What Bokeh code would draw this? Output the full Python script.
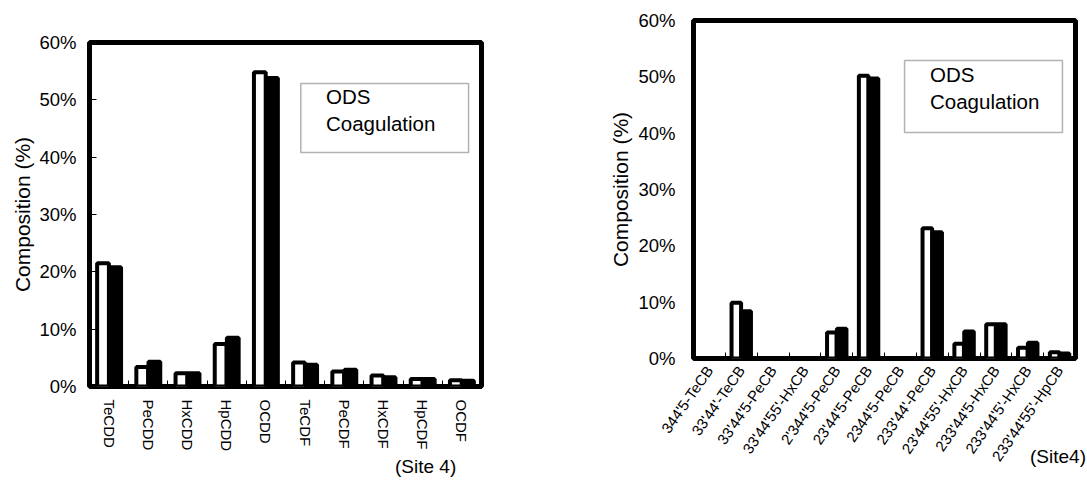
import math
import numpy as np
from bokeh.plotting import figure
from bokeh.models import (Range1d, FixedTicker, Legend, LegendItem, BoxAnnotation,
                          ColumnDataSource, PrintfTickFormatter, Div)
from bokeh.embed import file_html
from bokeh.resources import INLINE

# ---------------- data ----------------
dioxin_categories = ["TeCDD", "PeCDD", "HxCDD", "HpCDD", "OCDD",
                     "TeCDF", "PeCDF", "HxCDF", "HpCDF", "OCDF"]
dioxin_ods = [21.5, 3.4, 2.3, 7.4, 54.8, 4.2, 2.6, 1.9, 1.3, 1.1]
dioxin_coag = [20.8, 4.3, 2.3, 8.5, 53.8, 3.8, 2.9, 1.6, 1.3, 1.0]

pcb_categories = ["344'5-TeCB", "33'44'-TeCB", "33'44'5-PeCB", "33'44'55'-HxCB",
                  "2'344'5-PeCB", "23'44'5-PeCB", "2344'5-PeCB", "233'44'-PeCB",
                  "23'44'55'-HxCB", "233'44'5-HxCB", "233'44'5'-HxCB", "233'44'55'-HpCB"]
pcb_ods = [0, 9.9, 0, 0, 4.6, 50.2, 0, 23.1, 2.6, 6.1, 1.9, 1.1]
pcb_coag = [0, 8.4, 0, 0, 5.3, 49.7, 0, 22.4, 4.8, 6.1, 2.8, 0.9]

y_ticks = [0, 10, 20, 30, 40, 50, 60]
series_names = ["ODS", "Coagulation"]
y_title = "Composition (%)"
site_left = "(Site 4)"
site_right = "(Site4)"

FONT = "Liberation Sans"


def make_chart(cats, ods, coag, width, height, borders, label_orient, label_size,
               y_tick_in, box, legend_loc, label_standoff, ytick_standoff, ylabel_standoff):
    n = len(cats)
    centers = np.arange(n) + 0.5
    off = 0.155
    bw = 0.30
    p = figure(width=width, height=height, output_backend="svg", toolbar_location=None,
               x_range=Range1d(0, n), y_range=Range1d(0, 60),
               min_border_left=borders[0], min_border_right=borders[1],
               min_border_top=borders[2], min_border_bottom=borders[3])
    p.grid.visible = False
    p.background_fill_color = "white"
    p.border_fill_color = "white"
    p.outline_line_color = "black"
    p.outline_line_width = 5

    src_o = ColumnDataSource(dict(x=centers - off, top=ods))
    src_c = ColumnDataSource(dict(x=centers + off, top=coag))
    p.vbar(x="x", top="top", bottom=0, width=bw, source=src_o,
           fill_color="white", line_color="black", line_width=4)
    p.vbar(x="x", top="top", bottom=0, width=bw, source=src_c,
           fill_color="black", line_color="black", line_width=4)

    # x axis
    xa = p.xaxis[0]
    xa.ticker = FixedTicker(ticks=list(centers), minor_ticks=list(np.arange(1, n)))
    xa.major_label_overrides = {float(c): cats[i] for i, c in enumerate(centers)}
    xa.major_label_orientation = label_orient
    xa.major_label_text_font = FONT
    xa.major_label_text_font_size = label_size
    xa.major_label_text_color = "black"
    xa.major_label_standoff = label_standoff
    xa.axis_line_color = None
    xa.major_tick_line_color = None
    xa.minor_tick_in = 6
    xa.minor_tick_out = 0
    xa.minor_tick_line_color = "black"
    xa.minor_tick_line_width = 1

    # y axis
    ya = p.yaxis[0]
    ya.ticker = FixedTicker(ticks=y_ticks)
    ya.formatter = PrintfTickFormatter(format="%d%%")
    ya.major_label_text_font = FONT
    ya.major_label_text_font_size = "18.5px"
    ya.major_label_text_color = "black"
    ya.major_label_standoff = ytick_standoff
    ya.axis_line_color = None
    if y_tick_in:
        ya.major_tick_in = y_tick_in
        ya.major_tick_out = 0
        ya.major_tick_line_color = "black"
    else:
        ya.major_tick_line_color = None
    ya.minor_tick_line_color = None
    ya.axis_label = y_title
    ya.axis_label_text_font = FONT
    ya.axis_label_text_font_size = "21px"
    ya.axis_label_text_font_style = "normal"
    ya.axis_label_text_color = "black"
    ya.axis_label_standoff = ylabel_standoff

    # legend box + legend text
    p.add_layout(BoxAnnotation(left=box[0], right=box[1], top=box[2], bottom=box[3],
                               fill_color="white", fill_alpha=1.0,
                               line_color="black", line_width=1.5, level="overlay"))
    proxy_o = p.vbar(x=[], top=[], width=bw, fill_alpha=0, line_alpha=0)
    proxy_c = p.vbar(x=[], top=[], width=bw, fill_alpha=0, line_alpha=0)
    legend = Legend(items=[LegendItem(label=series_names[0], renderers=[proxy_o]),
                           LegendItem(label=series_names[1], renderers=[proxy_c])],
                    location=legend_loc, padding=4, spacing=3,
                    glyph_width=10, glyph_height=24, label_height=24, label_standoff=6,
                    label_text_font=FONT, label_text_font_size="20.5px",
                    label_text_color="black",
                    border_line_color=None, background_fill_alpha=0)
    p.add_layout(legend, "center")
    return p


p1 = make_chart(dioxin_categories, dioxin_ods, dioxin_coag, 560, 464,
                (80, 87, 34, 86), "vertical", "15px", 7,
                (5.39, 9.67, 52.85, 40.8), (221, 250), 7, 13, 2)
p2 = make_chart(pcb_categories, pcb_ods, pcb_coag, 511, 464,
                (125, 4, 12, 114), math.radians(55), "15px", 0,
                (6.63, 11.59, 52.9, 40.1), (221, 244), 3, 12, 3)

p1.styles = {"position": "absolute", "left": "8px", "top": "8px"}
p2.styles = {"position": "absolute", "left": "568px", "top": "8px"}


def site_note(text, left, top):
    return Div(text=text,
               styles={"position": "absolute", "left": f"{left}px", "top": f"{top}px",
                       "font-family": "Liberation Sans", "font-size": "19px",
                       "line-height": "20px", "color": "black", "margin": "0",
                       "padding": "0", "white-space": "nowrap"})


note1 = site_note(site_left, 395, 457)
note2 = site_note(site_right, 1030, 447)

open("out.html", "w").write(file_html([p1, p2, note1, note2], INLINE))
